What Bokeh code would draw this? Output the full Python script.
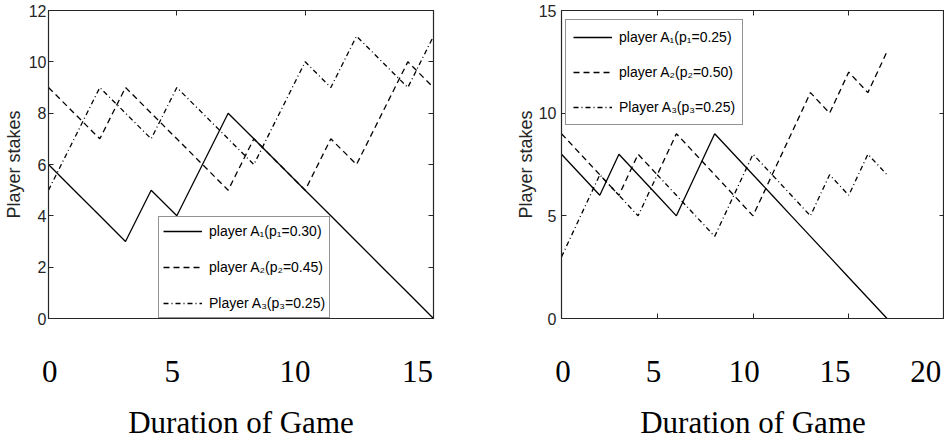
from bokeh.plotting import figure
from bokeh.models import (Range1d, LinearAxis, FixedTicker, Legend, LegendItem)
from bokeh.layouts import row
from bokeh.embed import file_html
from bokeh.resources import INLINE

# ---------------- data ----------------
left_games = [0, 1, 2, 3, 4, 5, 6, 7, 8, 9, 10, 11, 12, 13, 14, 15]
left_p1 = [6, 5, 4, 3, 5, 4, 6, 8, 7, 6, 5, 4, 3, 2, 1, 0]
left_p2 = [9, 8, 7, 9, 8, 7, 6, 5, 7, 6, 5, 7, 6, 8, 10, 9]
left_p3 = [5, 7, 9, 8, 7, 9, 8, 7, 6, 8, 10, 9, 11, 10, 9, 11]
left_labels = ["player A\u2081(p\u2081=0.30)", "player A\u2082(p\u2082=0.45)", "Player A\u2083(p\u2083=0.25)"]
left_xticks = [0, 5, 10, 15]
left_yticks = [0, 2, 4, 6, 8, 10, 12]

right_games = [0, 1, 2, 3, 4, 5, 6, 7, 8, 9, 10, 11, 12, 13, 14, 15, 16, 17]
right_p1 = [8, 7, 6, 8, 7, 6, 5, 7, 9, 8, 7, 6, 5, 4, 3, 2, 1, 0]
right_p2 = [9, 8, 7, 6, 8, 7, 9, 8, 7, 6, 5, 7, 9, 11, 10, 12, 11, 13]
right_p3 = [3, 5, 7, 6, 5, 7, 6, 5, 4, 6, 8, 7, 6, 5, 7, 6, 8, 7]
right_labels = ["player A\u2081(p\u2081=0.25)", "player A\u2082(p\u2082=0.50)", "Player A\u2083(p\u2083=0.25)"]
right_xticks = [0, 5, 10, 15, 20]
right_yticks = [0, 5, 10, 15]

AX = "#262626"
DASHES = ["solid", "6 4", "5 3 1 3"]


def ticks_only_axis(ticks, **kw):
    return LinearAxis(ticker=FixedTicker(ticks=ticks), major_label_text_font_size="0px",
                      major_label_text_color=None, major_label_standoff=0,
                      major_tick_in=5, major_tick_out=0, minor_tick_line_color=None,
                      axis_line_color=AX, major_tick_line_color=AX, **kw)


def make_plot(width, border_left, border_right, xr, yr, lab_range, xticks, yticks,
              games, series, labels, legend_loc, tick_standoff, label_standoff,
              leg_padding, leg_spacing):
    p = figure(width=width, height=442, output_backend="svg", toolbar_location=None,
               x_range=Range1d(*xr), y_range=Range1d(*yr),
               x_axis_location=None, y_axis_location=None,
               min_border_left=border_left, min_border_right=border_right,
               min_border_top=10, min_border_bottom=0)
    p.grid.visible = False
    p.outline_line_color = AX
    p.outline_line_width = 1.2
    p.background_fill_color = "white"
    p.border_fill_color = "white"

    # left axis with labels
    ya = LinearAxis(ticker=FixedTicker(ticks=yticks), major_tick_in=5, major_tick_out=0,
                    minor_tick_line_color=None, axis_line_color=AX, major_tick_line_color=AX,
                    major_label_text_font="Liberation Sans", major_label_text_font_size="16px",
                    major_label_text_color=AX, major_label_standoff=tick_standoff,
                    axis_label="Player stakes", axis_label_text_font="Liberation Sans",
                    axis_label_text_font_size="18px", axis_label_text_font_style="normal",
                    axis_label_text_color=AX, axis_label_standoff=label_standoff)
    p.add_layout(ya, "left")

    # bottom / top / right: tick marks only
    p.add_layout(ticks_only_axis(xticks), "below")
    p.add_layout(ticks_only_axis(xticks), "above")
    p.add_layout(ticks_only_axis(yticks), "right")

    # tick labels in serif font, on their own range
    p.extra_x_ranges = {"lab": Range1d(*lab_range)}
    lab = LinearAxis(x_range_name="lab", ticker=FixedTicker(ticks=xticks),
                     major_tick_in=0, major_tick_out=0, minor_tick_line_color=None,
                     axis_line_color=None,
                     major_label_text_font="Liberation Serif",
                     major_label_text_font_size="31px",
                     major_label_text_color="black",
                     major_label_standoff=42,
                     axis_label="Duration of Game",
                     axis_label_text_font="Liberation Serif",
                     axis_label_text_font_size="31px",
                     axis_label_text_font_style="normal",
                     axis_label_text_color="black",
                     axis_label_standoff=20)
    p.add_layout(lab, "below")

    items = []
    for ys, dash, label in zip(series, DASHES, labels):
        r = p.line(games, ys, line_color="black", line_width=1.3, line_dash=dash)
        items.append(LegendItem(label=label, renderers=[r]))

    leg = Legend(items=items, location=legend_loc,
                 label_text_font="Liberation Sans", label_text_font_size="14px",
                 label_text_color="black",
                 glyph_width=39, glyph_height=20, label_height=20,
                 label_standoff=7, spacing=leg_spacing, padding=leg_padding, margin=0,
                 border_line_color=AX, border_line_width=1.2,
                 background_fill_color="white", background_fill_alpha=1.0)
    p.add_layout(leg)
    return p


p1 = make_plot(512, 46, 79, (0, 15), (0, 12), (-0.05, 15.65), left_xticks, left_yticks,
               left_games, [left_p1, left_p2, left_p3], left_labels, (110, 0), 2, 2, 4, 16)
p2 = make_plot(432, 46, 0, (0, 20), (0, 15), (-0.08, 21.04), right_xticks, right_yticks,
               right_games, [right_p1, right_p2, right_p3], right_labels, (4, 193), 5, 0, 7, 15)

layout = row(p1, p2)
open("out.html", "w").write(file_html(layout, INLINE))
